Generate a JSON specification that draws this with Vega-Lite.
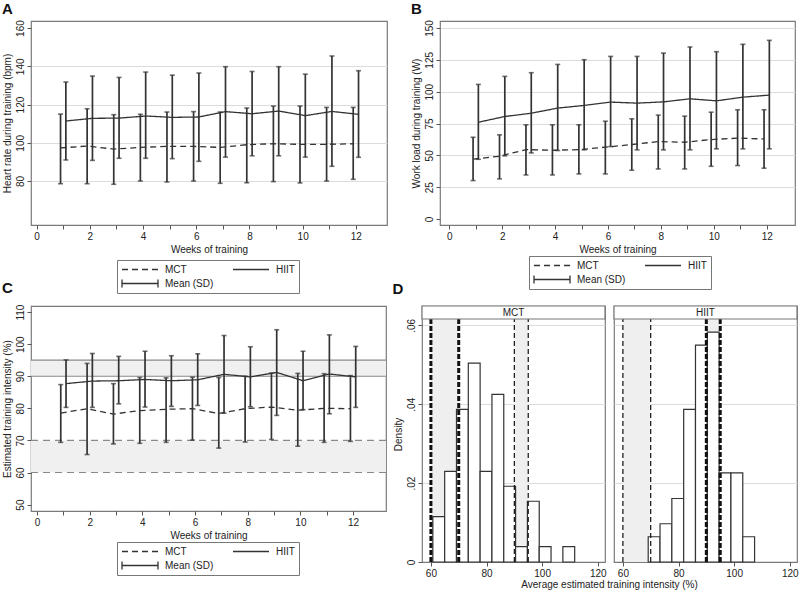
{
  "$schema": "https://vega.github.io/schema/vega-lite/v6.json",
  "padding": {"left": 1, "top": 1, "right": 0, "bottom": 0},
  "background": "white",
  "config": {
    "font": "Liberation Sans",
    "view": {"stroke": "#7a7a7a", "strokeWidth": 1.2},
    "axis": {"labelFont": "Liberation Sans", "labelFontSize": 10, "labelColor": "#222", "titleFont": "Liberation Sans", "titleFontSize": 10, "titleFontWeight": "normal", "titleColor": "#222", "tickColor": "#555", "tickSize": 4, "domain": false, "grid": false, "labelPadding": 2, "titlePadding": 3, "labelFlush": false, "labelOverlap": false, "gridColor": "#dcdcdc"},
    "axisY": {"labelAngle": 270, "labelAlign": "center", "labelBaseline": "bottom"},
    "title": {"fontSize": 15, "fontWeight": "bold", "anchor": "start", "frame": "bounds", "color": "#111", "font": "Liberation Sans"},
    "legend": {"labelFont": "Liberation Sans", "labelFontSize": 10, "labelColor": "#222"}
  },
  "datasets": {
    "hr": [
      {"g": "MCT", "wk": 0.9, "mean": 97.3, "lo": 78.6, "hi": 115.0},
      {"g": "MCT", "wk": 1.9, "mean": 98.3, "lo": 78.6, "hi": 117.8},
      {"g": "MCT", "wk": 2.9, "mean": 96.7, "lo": 78.3, "hi": 114.7},
      {"g": "MCT", "wk": 3.9, "mean": 97.6, "lo": 80.0, "hi": 114.9},
      {"g": "MCT", "wk": 4.9, "mean": 98.1, "lo": 79.5, "hi": 116.1},
      {"g": "MCT", "wk": 5.9, "mean": 98.1, "lo": 80.0, "hi": 116.3},
      {"g": "MCT", "wk": 6.9, "mean": 97.6, "lo": 78.8, "hi": 116.1},
      {"g": "MCT", "wk": 7.9, "mean": 99.0, "lo": 79.1, "hi": 118.2},
      {"g": "MCT", "wk": 8.9, "mean": 99.5, "lo": 79.7, "hi": 119.2},
      {"g": "MCT", "wk": 9.9, "mean": 99.2, "lo": 79.0, "hi": 119.2},
      {"g": "MCT", "wk": 10.9, "mean": 99.2, "lo": 80.0, "hi": 118.5},
      {"g": "MCT", "wk": 11.9, "mean": 99.5, "lo": 80.9, "hi": 118.5},
      {"g": "HIIT", "wk": 1.1, "mean": 111.4, "lo": 91.0, "hi": 131.8},
      {"g": "HIIT", "wk": 2.1, "mean": 112.8, "lo": 90.8, "hi": 134.9},
      {"g": "HIIT", "wk": 3.1, "mean": 112.9, "lo": 91.9, "hi": 134.2},
      {"g": "HIIT", "wk": 4.1, "mean": 114.0, "lo": 91.9, "hi": 137.0},
      {"g": "HIIT", "wk": 5.1, "mean": 113.3, "lo": 91.7, "hi": 135.4},
      {"g": "HIIT", "wk": 6.1, "mean": 113.5, "lo": 90.3, "hi": 136.5},
      {"g": "HIIT", "wk": 7.1, "mean": 116.3, "lo": 92.5, "hi": 139.8},
      {"g": "HIIT", "wk": 8.1, "mean": 115.2, "lo": 93.2, "hi": 137.3},
      {"g": "HIIT", "wk": 9.1, "mean": 116.6, "lo": 93.2, "hi": 139.8},
      {"g": "HIIT", "wk": 10.1, "mean": 114.2, "lo": 92.5, "hi": 135.9},
      {"g": "HIIT", "wk": 11.1, "mean": 116.4, "lo": 87.7, "hi": 145.4},
      {"g": "HIIT", "wk": 12.1, "mean": 114.9, "lo": 92.4, "hi": 137.7}
    ],
    "wl": [
      {"g": "MCT", "wk": 0.9, "mean": 47.0, "lo": 30.2, "hi": 64.2},
      {"g": "MCT", "wk": 1.9, "mean": 49.3, "lo": 31.5, "hi": 66.1},
      {"g": "MCT", "wk": 2.9, "mean": 54.5, "lo": 34.6, "hi": 74.0},
      {"g": "MCT", "wk": 3.9, "mean": 54.0, "lo": 34.6, "hi": 74.0},
      {"g": "MCT", "wk": 4.9, "mean": 54.5, "lo": 35.4, "hi": 74.0},
      {"g": "MCT", "wk": 5.9, "mean": 56.4, "lo": 35.4, "hi": 76.8},
      {"g": "MCT", "wk": 6.9, "mean": 58.5, "lo": 38.3, "hi": 78.7},
      {"g": "MCT", "wk": 7.9, "mean": 60.8, "lo": 39.3, "hi": 81.6},
      {"g": "MCT", "wk": 8.9, "mean": 60.3, "lo": 39.3, "hi": 80.8},
      {"g": "MCT", "wk": 9.9, "mean": 62.4, "lo": 41.4, "hi": 83.9},
      {"g": "MCT", "wk": 10.9, "mean": 63.5, "lo": 42.0, "hi": 85.8},
      {"g": "MCT", "wk": 11.9, "mean": 62.9, "lo": 39.9, "hi": 85.8},
      {"g": "HIIT", "wk": 1.1, "mean": 76.0, "lo": 46.9, "hi": 105.7},
      {"g": "HIIT", "wk": 2.1, "mean": 80.5, "lo": 49.6, "hi": 112.0},
      {"g": "HIIT", "wk": 3.1, "mean": 83.1, "lo": 51.9, "hi": 114.9},
      {"g": "HIIT", "wk": 4.1, "mean": 87.1, "lo": 53.8, "hi": 121.4},
      {"g": "HIIT", "wk": 5.1, "mean": 89.2, "lo": 54.3, "hi": 125.1},
      {"g": "HIIT", "wk": 6.1, "mean": 91.8, "lo": 56.9, "hi": 127.7},
      {"g": "HIIT", "wk": 7.1, "mean": 91.0, "lo": 54.3, "hi": 127.7},
      {"g": "HIIT", "wk": 8.1, "mean": 92.0, "lo": 54.3, "hi": 130.3},
      {"g": "HIIT", "wk": 9.1, "mean": 94.4, "lo": 54.3, "hi": 135.1},
      {"g": "HIIT", "wk": 10.1, "mean": 92.8, "lo": 55.1, "hi": 131.4},
      {"g": "HIIT", "wk": 11.1, "mean": 95.7, "lo": 55.1, "hi": 137.2},
      {"g": "HIIT", "wk": 12.1, "mean": 97.3, "lo": 55.1, "hi": 140.3}
    ],
    "ti": [
      {"g": "MCT", "wk": 0.9, "mean": 78.5, "lo": 69.4, "hi": 87.4},
      {"g": "MCT", "wk": 1.9, "mean": 79.9, "lo": 65.6, "hi": 94.0},
      {"g": "MCT", "wk": 2.9, "mean": 78.2, "lo": 68.9, "hi": 87.7},
      {"g": "MCT", "wk": 3.9, "mean": 79.3, "lo": 69.1, "hi": 89.6},
      {"g": "MCT", "wk": 4.9, "mean": 79.7, "lo": 69.4, "hi": 89.5},
      {"g": "MCT", "wk": 5.9, "mean": 79.9, "lo": 70.1, "hi": 89.7},
      {"g": "MCT", "wk": 6.9, "mean": 78.4, "lo": 67.6, "hi": 89.6},
      {"g": "MCT", "wk": 7.9, "mean": 79.9, "lo": 69.5, "hi": 90.0},
      {"g": "MCT", "wk": 8.9, "mean": 80.4, "lo": 70.3, "hi": 91.0},
      {"g": "MCT", "wk": 9.9, "mean": 79.4, "lo": 68.2, "hi": 90.9},
      {"g": "MCT", "wk": 10.9, "mean": 80.0, "lo": 69.4, "hi": 90.8},
      {"g": "MCT", "wk": 11.9, "mean": 79.9, "lo": 69.7, "hi": 90.2},
      {"g": "HIIT", "wk": 1.1, "mean": 87.7, "lo": 80.3, "hi": 95.1},
      {"g": "HIIT", "wk": 2.1, "mean": 88.5, "lo": 80.3, "hi": 97.1},
      {"g": "HIIT", "wk": 3.1, "mean": 88.6, "lo": 81.4, "hi": 96.2},
      {"g": "HIIT", "wk": 4.1, "mean": 89.0, "lo": 80.4, "hi": 97.8},
      {"g": "HIIT", "wk": 5.1, "mean": 88.6, "lo": 80.6, "hi": 96.4},
      {"g": "HIIT", "wk": 6.1, "mean": 88.9, "lo": 80.9, "hi": 97.0},
      {"g": "HIIT", "wk": 7.1, "mean": 90.6, "lo": 78.5, "hi": 102.7},
      {"g": "HIIT", "wk": 8.1, "mean": 89.8, "lo": 80.5, "hi": 99.2},
      {"g": "HIIT", "wk": 9.1, "mean": 91.2, "lo": 77.8, "hi": 104.5},
      {"g": "HIIT", "wk": 10.1, "mean": 88.6, "lo": 79.6, "hi": 97.8},
      {"g": "HIIT", "wk": 11.1, "mean": 90.7, "lo": 78.3, "hi": 102.9},
      {"g": "HIIT", "wk": 12.1, "mean": 89.8, "lo": 80.3, "hi": 99.3}
    ],
    "tiBands": [
      {"zone": "MCT", "lo": 60, "hi": 70},
      {"zone": "HIIT", "lo": 90, "hi": 95}
    ],
    "dhist": [
      {"panel": "MCT", "x0": 60.7, "x1": 64.95, "density": 0.0115},
      {"panel": "MCT", "x0": 64.95, "x1": 69.2, "density": 0.0230},
      {"panel": "MCT", "x0": 69.2, "x1": 73.45, "density": 0.0387},
      {"panel": "MCT", "x0": 73.45, "x1": 77.7, "density": 0.0504},
      {"panel": "MCT", "x0": 77.7, "x1": 81.95, "density": 0.0230},
      {"panel": "MCT", "x0": 81.95, "x1": 86.2, "density": 0.0425},
      {"panel": "MCT", "x0": 86.2, "x1": 90.45, "density": 0.0192},
      {"panel": "MCT", "x0": 90.45, "x1": 94.7, "density": 0.0039},
      {"panel": "MCT", "x0": 94.7, "x1": 98.95, "density": 0.0154},
      {"panel": "MCT", "x0": 98.95, "x1": 103.2, "density": 0.0039},
      {"panel": "MCT", "x0": 107.45, "x1": 111.7, "density": 0.0039},
      {"panel": "HIIT", "x0": 69.1, "x1": 73.35, "density": 0.0064},
      {"panel": "HIIT", "x0": 73.35, "x1": 77.6, "density": 0.0097},
      {"panel": "HIIT", "x0": 77.6, "x1": 81.85, "density": 0.0161},
      {"panel": "HIIT", "x0": 81.85, "x1": 86.1, "density": 0.0387},
      {"panel": "HIIT", "x0": 86.1, "x1": 90.35, "density": 0.0550},
      {"panel": "HIIT", "x0": 90.35, "x1": 94.6, "density": 0.0583},
      {"panel": "HIIT", "x0": 94.6, "x1": 98.85, "density": 0.0226},
      {"panel": "HIIT", "x0": 98.85, "x1": 103.1, "density": 0.0226},
      {"panel": "HIIT", "x0": 103.1, "x1": 107.35, "density": 0.0064}
    ],
    "dbands": [
      {"panel": "MCT", "lo": 60, "hi": 70},
      {"panel": "MCT", "lo": 90, "hi": 95},
      {"panel": "HIIT", "lo": 60, "hi": 70},
      {"panel": "HIIT", "lo": 90, "hi": 95}
    ],
    "dlines": [
      {"panel": "MCT", "v": 60, "zone": "MCT"},
      {"panel": "MCT", "v": 70, "zone": "MCT"},
      {"panel": "MCT", "v": 90, "zone": "HIIT"},
      {"panel": "MCT", "v": 95, "zone": "HIIT"},
      {"panel": "HIIT", "v": 60, "zone": "MCT"},
      {"panel": "HIIT", "v": 70, "zone": "MCT"},
      {"panel": "HIIT", "v": 90, "zone": "HIIT"},
      {"panel": "HIIT", "v": 95, "zone": "HIIT"}
    ],
    "dhead": [
      {"panel": "MCT"},
      {"panel": "HIIT"}
    ]
  },
  "spacing": -15,
  "resolve": {"scale": {"strokeDash": "independent"}, "legend": {"strokeDash": "independent"}},
  "vconcat": [
    {
      "spacing": 22,
      "resolve": {"scale": {"strokeDash": "independent"}, "legend": {"strokeDash": "independent"}},
      "hconcat": [
        {
          "title": {"text": "A", "offset": 3},
          "width": 356, "height": 204,
          "data": {"name": "hr"},
          "encoding": {
            "x": {"field": "wk", "type": "quantitative", "scale": {"domain": [-0.21, 13.17], "nice": false, "zero": false}, "axis": {"values": [0,1,2,3,4,5,6,7,8,9,10,11,12], "tickCount": 30, "format": "d", "labelExpr": "datum.value % 2 === 0 ? datum.label : ''", "title": "Weeks of training", "labelOverlap": false}}
          },
          "layer": [
            {"mark": {"type": "rule", "color": "#333", "strokeWidth": 1.7},
             "encoding": {
               "y": {"field": "lo", "type": "quantitative", "scale": {"domain": [57, 163.7], "nice": false, "zero": false}, "axis": {"values": [80,100,120,140,160], "tickCount": 30, "format": "d", "labelOverlap": false, "title": "Heart rate during training (bpm)", "grid": true, "gridOpacity": {"condition": {"test": "datum.value === 160", "value": 0}, "value": 1}}},
               "y2": {"field": "hi"}}},
            {"mark": {"type": "tick", "orient": "horizontal", "size": 5, "thickness": 1.6, "color": "#333"},
             "encoding": {"y": {"field": "hi", "type": "quantitative", "title": "Heart rate during training (bpm)"}}},
            {"mark": {"type": "tick", "orient": "horizontal", "size": 5, "thickness": 1.6, "color": "#333"},
             "encoding": {"y": {"field": "lo", "type": "quantitative", "title": "Heart rate during training (bpm)"}}},
            {"mark": {"type": "line", "color": "#333", "strokeWidth": 1.3},
             "encoding": {
               "y": {"field": "mean", "type": "quantitative", "title": "Heart rate during training (bpm)"},
               "strokeDash": {"field": "g", "type": "nominal", "scale": {"domain": ["MCT", "HIIT", "Mean (SD)"], "range": [[6, 4], [1, 0], [1, 0]]},
                 "legend": {"title": null, "orient": "none", "legendX": 86, "legendY": 239, "direction": "horizontal", "columns": 2, "clipHeight": 11, "symbolType": "stroke", "symbolSize": 1296, "symbolStrokeColor": "#333", "symbolStrokeWidth": 1.3, "labelOffset": 6, "columnPadding": 18, "rowPadding": 3, "padding": 4, "strokeColor": "#777", "fillColor": "white",
                   "encode": {"symbols": {"update": {"shape": [{"test": "datum.label === 'Mean (SD)'", "value": "M-1,0H1M-1,-0.22V0.22M1,-0.22V0.22"}, {"value": "stroke"}]}}}}}}}
          ]
        },
        {
          "title": {"text": "B", "offset": 3},
          "width": 355, "height": 204,
          "data": {"name": "wl"},
          "encoding": {
            "x": {"field": "wk", "type": "quantitative", "scale": {"domain": [-0.35, 13.07], "nice": false, "zero": false}, "axis": {"values": [0,1,2,3,4,5,6,7,8,9,10,11,12], "tickCount": 30, "format": "d", "labelExpr": "datum.value % 2 === 0 ? datum.label : ''", "title": "Weeks of training", "labelOverlap": false}}
          },
          "layer": [
            {"mark": {"type": "rule", "color": "#333", "strokeWidth": 1.7},
             "encoding": {
               "y": {"field": "lo", "type": "quantitative", "scale": {"domain": [-4.7, 155.5], "nice": false, "zero": false}, "axis": {"values": [0,25,50,75,100,125,150], "tickCount": 30, "format": "d", "labelOverlap": false, "title": "Work load during training (W)", "grid": true, "gridOpacity": {"condition": {"test": "datum.value === 0", "value": 0}, "value": 1}}},
               "y2": {"field": "hi"}}},
            {"mark": {"type": "tick", "orient": "horizontal", "size": 5, "thickness": 1.6, "color": "#333"},
             "encoding": {"y": {"field": "hi", "type": "quantitative", "title": "Work load during training (W)"}}},
            {"mark": {"type": "tick", "orient": "horizontal", "size": 5, "thickness": 1.6, "color": "#333"},
             "encoding": {"y": {"field": "lo", "type": "quantitative", "title": "Work load during training (W)"}}},
            {"mark": {"type": "line", "color": "#333", "strokeWidth": 1.3},
             "encoding": {
               "y": {"field": "mean", "type": "quantitative", "title": "Work load during training (W)"},
               "strokeDash": {"field": "g", "type": "nominal", "scale": {"domain": ["MCT", "HIIT", "Mean (SD)"], "range": [[6, 4], [1, 0], [1, 0]]},
                 "legend": {"title": null, "orient": "none", "legendX": 89, "legendY": 235, "direction": "horizontal", "columns": 2, "clipHeight": 11, "symbolType": "stroke", "symbolSize": 1296, "symbolStrokeColor": "#333", "symbolStrokeWidth": 1.3, "labelOffset": 6, "columnPadding": 18, "rowPadding": 3, "padding": 4, "strokeColor": "#777", "fillColor": "white",
                   "encode": {"symbols": {"update": {"shape": [{"test": "datum.label === 'Mean (SD)'", "value": "M-1,0H1M-1,-0.22V0.22M1,-0.22V0.22"}, {"value": "stroke"}]}}}}}}}
          ]
        }
      ]
    },
    {
      "spacing": 4,
      "resolve": {"scale": {"strokeDash": "independent"}, "legend": {"strokeDash": "independent"}},
      "hconcat": [
        {
          "title": {"text": "C", "offset": 8},
          "width": 355, "height": 205,
          "layer": [
            {"data": {"name": "tiBands"}, "mark": {"type": "rect", "color": "#f0f0f0"},
             "encoding": {
               "y": {"field": "lo", "type": "quantitative", "scale": {"domain": [48, 111.9], "nice": false, "zero": false}, "axis": {"values": [50,60,70,80,90,100,110], "tickCount": 30, "format": "d", "labelOverlap": false, "title": "Estimated training intensity (%)"}},
               "y2": {"field": "hi"}}},
            {"data": {"name": "tiBands"}, "mark": {"type": "rule", "color": "#8a8a8a", "strokeWidth": 1.2},
             "encoding": {
               "y": {"field": "lo", "type": "quantitative", "title": "Estimated training intensity (%)"},
               "strokeDash": {"condition": {"test": "datum.zone === 'MCT'", "value": [7, 5]}, "value": [1, 0]}}},
            {"data": {"name": "tiBands"}, "mark": {"type": "rule", "color": "#8a8a8a", "strokeWidth": 1.2},
             "encoding": {
               "y": {"field": "hi", "type": "quantitative", "title": "Estimated training intensity (%)"},
               "strokeDash": {"condition": {"test": "datum.zone === 'MCT'", "value": [7, 5]}, "value": [1, 0]}}},
            {"data": {"name": "ti"}, "mark": {"type": "rule", "color": "#333", "strokeWidth": 1.7},
             "encoding": {
               "x": {"field": "wk", "type": "quantitative", "scale": {"domain": [-0.23, 13.25], "nice": false, "zero": false}, "axis": {"values": [0,1,2,3,4,5,6,7,8,9,10,11,12], "tickCount": 30, "format": "d", "labelExpr": "datum.value % 2 === 0 ? datum.label : ''", "title": "Weeks of training", "labelOverlap": false}},
               "y": {"field": "lo", "type": "quantitative", "title": "Estimated training intensity (%)"},
               "y2": {"field": "hi"}}},
            {"data": {"name": "ti"}, "mark": {"type": "tick", "orient": "horizontal", "size": 5, "thickness": 1.6, "color": "#333"},
             "encoding": {
               "x": {"field": "wk", "type": "quantitative", "title": "Weeks of training"},
               "y": {"field": "hi", "type": "quantitative", "title": "Estimated training intensity (%)"}}},
            {"data": {"name": "ti"}, "mark": {"type": "tick", "orient": "horizontal", "size": 5, "thickness": 1.6, "color": "#333"},
             "encoding": {
               "x": {"field": "wk", "type": "quantitative", "title": "Weeks of training"},
               "y": {"field": "lo", "type": "quantitative", "title": "Estimated training intensity (%)"}}},
            {"data": {"name": "ti"}, "mark": {"type": "line", "color": "#333", "strokeWidth": 1.3},
             "encoding": {
               "x": {"field": "wk", "type": "quantitative", "title": "Weeks of training"},
               "y": {"field": "mean", "type": "quantitative", "title": "Estimated training intensity (%)"},
               "strokeDash": {"field": "g", "type": "nominal", "scale": {"domain": ["MCT", "HIIT", "Mean (SD)"], "range": [[6, 4], [1, 0], [1, 0]]},
                 "legend": {"title": null, "orient": "none", "legendX": 86, "legendY": 236, "direction": "horizontal", "columns": 2, "clipHeight": 11, "symbolType": "stroke", "symbolSize": 1296, "symbolStrokeColor": "#333", "symbolStrokeWidth": 1.3, "labelOffset": 6, "columnPadding": 18, "rowPadding": 3, "padding": 4, "strokeColor": "#777", "fillColor": "white",
                   "encode": {"symbols": {"update": {"shape": [{"test": "datum.label === 'Mean (SD)'", "value": "M-1,0H1M-1,-0.22V0.22M1,-0.22V0.22"}, {"value": "stroke"}]}}}}}}}
          ]
        },
        {
          "title": {"text": "D", "offset": 8},
          "vconcat": [
            {
              "title": {"text": "Average estimated training intensity (%)", "orient": "bottom", "anchor": "middle", "frame": "bounds", "fontSize": 10, "fontWeight": "normal", "color": "#222", "offset": 1, "dx": 14},
              "spacing": 5,
              "hconcat": [
                {
                  "width": 183, "height": 256,
                  "layer": [
                    {"data": {"name": "dbands"}, "transform": [{"filter": "datum.panel === 'MCT'"}], "mark": {"type": "rect", "color": "#efefef"},
                     "encoding": {
                       "x": {"field": "lo", "type": "quantitative", "scale": {"domain": [56.8, 122.6], "nice": false, "zero": false}, "axis": {"values": [60, 80, 100, 120], "tickCount": 30, "format": "d", "title": null, "labelOverlap": false}},
                       "x2": {"field": "hi"},
                       "y": {"datum": 0, "type": "quantitative", "scale": {"domain": [0, 0.0649], "nice": false, "zero": false}, "axis": {"values": [0, 0.02, 0.04, 0.06], "tickCount": 30, "labelOverlap": false, "title": "Density", "labelExpr": "datum.value === 0 ? '0' : replace(format(datum.value, '.2f'), '0.', '.')", "grid": true, "gridOpacity": {"condition": {"test": "datum.value === 0", "value": 0}, "value": 1}}},
                       "y2": {"datum": 0.0616}}},
                    {"data": {"name": "dhist"}, "transform": [{"filter": "datum.panel === 'MCT'"}], "mark": {"type": "rect", "fill": "white", "stroke": "#333", "strokeWidth": 1.2},
                     "encoding": {
                       "x": {"field": "x0", "type": "quantitative", "title": null},
                       "x2": {"field": "x1"},
                       "y": {"field": "density", "type": "quantitative", "title": "Density"},
                       "y2": {"datum": 0}}},
                    {"data": {"name": "dlines"}, "transform": [{"filter": "datum.panel === 'MCT'"}], "mark": {"type": "rule", "color": "#111"},
                     "encoding": {
                       "x": {"field": "v", "type": "quantitative", "title": null},
                       "y": {"datum": 0, "type": "quantitative", "title": "Density"},
                       "y2": {"datum": 0.0616},
                       "strokeWidth": {"condition": {"test": "datum.zone === datum.panel", "value": 3}, "value": 1.2},
                       "strokeDash": {"condition": {"test": "datum.zone === datum.panel", "value": [5, 2]}, "value": [5, 3]}}},
                    {"data": {"name": "dhead"}, "transform": [{"filter": "datum.panel === 'MCT'"}], "mark": {"type": "rect", "fill": "white", "stroke": "#777", "strokeWidth": 1.2},
                     "encoding": {
                       "y": {"datum": 0.0616, "type": "quantitative", "title": "Density"},
                       "y2": {"datum": 0.0649}}},
                    {"data": {"name": "dhead"}, "transform": [{"filter": "datum.panel === 'MCT'"}], "mark": {"type": "text", "fontSize": 10, "color": "#222", "font": "Liberation Sans"},
                     "encoding": {
                       "y": {"datum": 0.06325, "type": "quantitative", "title": "Density"},
                       "text": {"field": "panel"}}}
                  ]
                },
                {
                  "width": 183, "height": 256,
                  "layer": [
                    {"data": {"name": "dbands"}, "transform": [{"filter": "datum.panel === 'HIIT'"}], "mark": {"type": "rect", "color": "#efefef"},
                     "encoding": {
                       "x": {"field": "lo", "type": "quantitative", "scale": {"domain": [56.8, 122.6], "nice": false, "zero": false}, "axis": {"values": [60, 80, 100, 120], "tickCount": 30, "format": "d", "title": null, "labelOverlap": false}},
                       "x2": {"field": "hi"},
                       "y": {"datum": 0, "type": "quantitative", "scale": {"domain": [0, 0.0649], "nice": false, "zero": false}, "axis": {"values": [0, 0.02, 0.04, 0.06], "tickCount": 30, "title": null, "labels": false, "ticks": false, "grid": true, "gridOpacity": {"condition": {"test": "datum.value === 0", "value": 0}, "value": 1}}},
                       "y2": {"datum": 0.0616}}},
                    {"data": {"name": "dhist"}, "transform": [{"filter": "datum.panel === 'HIIT'"}], "mark": {"type": "rect", "fill": "white", "stroke": "#333", "strokeWidth": 1.2},
                     "encoding": {
                       "x": {"field": "x0", "type": "quantitative", "title": null},
                       "x2": {"field": "x1"},
                       "y": {"field": "density", "type": "quantitative", "title": null},
                       "y2": {"datum": 0}}},
                    {"data": {"name": "dlines"}, "transform": [{"filter": "datum.panel === 'HIIT'"}], "mark": {"type": "rule", "color": "#111"},
                     "encoding": {
                       "x": {"field": "v", "type": "quantitative", "title": null},
                       "y": {"datum": 0, "type": "quantitative", "title": null},
                       "y2": {"datum": 0.0616},
                       "strokeWidth": {"condition": {"test": "datum.zone === datum.panel", "value": 3}, "value": 1.2},
                       "strokeDash": {"condition": {"test": "datum.zone === datum.panel", "value": [5, 2]}, "value": [5, 3]}}},
                    {"data": {"name": "dhead"}, "transform": [{"filter": "datum.panel === 'HIIT'"}], "mark": {"type": "rect", "fill": "white", "stroke": "#777", "strokeWidth": 1.2},
                     "encoding": {
                       "y": {"datum": 0.0616, "type": "quantitative", "title": null},
                       "y2": {"datum": 0.0649}}},
                    {"data": {"name": "dhead"}, "transform": [{"filter": "datum.panel === 'HIIT'"}], "mark": {"type": "text", "fontSize": 10, "color": "#222", "font": "Liberation Sans"},
                     "encoding": {
                       "y": {"datum": 0.06325, "type": "quantitative", "title": null},
                       "text": {"field": "panel"}}}
                  ]
                }
              ]
            }
          ]
        }
      ]
    }
  ]
}
